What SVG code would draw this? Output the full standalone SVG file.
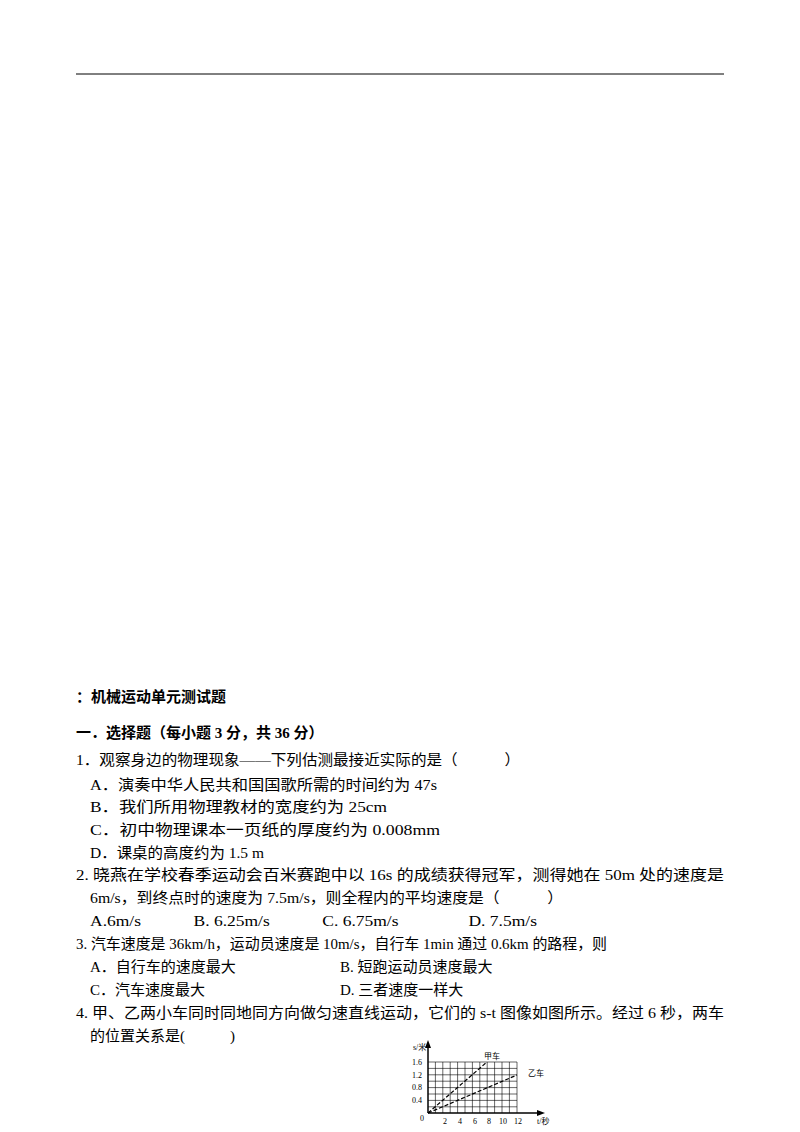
<svg xmlns="http://www.w3.org/2000/svg" width="800" height="1132" viewBox="0 0 800 1132">
<style>
text{font-family:"Liberation Serif","Noto Sans CJK SC",serif;font-size:15px;fill:#000}
.b{font-weight:bold}
.s{font-size:8px;font-family:"Liberation Serif","Noto Sans CJK SC",serif}
.g{stroke:#000;stroke-width:0.6}
</style>
<rect width="800" height="1132" fill="#fff"/>
<line x1="76" y1="74" x2="724" y2="74" stroke="#000" stroke-width="1"/>
<g id="text">
<text x="76" y="702" class="b">：机械运动单元测试题</text>
<text x="76" y="738" class="b">一．选择题（每小题 3 分，共 36 分）</text>
<text x="76" y="765" textLength="444" lengthAdjust="spacingAndGlyphs">1．观察身边的物理现象——下列估测最接近实际的是（　　　）</text>
<text x="90" y="790" textLength="347" lengthAdjust="spacingAndGlyphs">A．演奏中华人民共和国国歌所需的时间约为 47s</text>
<text x="90" y="812" textLength="297" lengthAdjust="spacingAndGlyphs">B．我们所用物理教材的宽度约为 25cm</text>
<text x="90" y="835" textLength="350" lengthAdjust="spacingAndGlyphs">C．初中物理课本一页纸的厚度约为 0.008mm</text>
<text x="90" y="858" textLength="174" lengthAdjust="spacingAndGlyphs">D．课桌的高度约为 1.5 m</text>
<text x="76" y="880" textLength="648" lengthAdjust="spacingAndGlyphs">2. 晓燕在学校春季运动会百米赛跑中以 16s 的成绩获得冠军，测得她在 50m 处的速度是</text>
<text x="90" y="903" textLength="473" lengthAdjust="spacingAndGlyphs">6m/s，到终点时的速度为 7.5m/s，则全程内的平均速度是（　　　）</text>
<text x="90" y="926" textLength="447" lengthAdjust="spacingAndGlyphs">A.6m/s　　　B. 6.25m/s　　　C. 6.75m/s　　　　D. 7.5m/s</text>
<text x="76" y="949" textLength="531" lengthAdjust="spacingAndGlyphs">3. 汽车速度是 36km/h，运动员速度是 10m/s，自行车 1min 通过 0.6km 的路程，则</text>
<text x="90" y="972">A．自行车的速度最大</text>
<text x="340" y="972">B. 短跑运动员速度最大</text>
<text x="90" y="995">C．汽车速度最大</text>
<text x="340" y="995">D. 三者速度一样大</text>
<text x="76" y="1018" textLength="648" lengthAdjust="spacingAndGlyphs">4. 甲、乙两小车同时同地同方向做匀速直线运动，它们的 s-t 图像如图所示。经过 6 秒，两车</text>
<text x="90" y="1041">的位置关系是(　　　)</text>
</g>
<g id="graph">
<g class="g">
<path d="M428 1062H517M428 1068.4H517M428 1074.8H517M428 1081.2H517M428 1087.6H517M428 1094H517M428 1100.4H517M428 1106.8H517" fill="none"/>
<path d="M435.4 1062V1113M442.8 1062V1113M450.2 1062V1113M457.6 1062V1113M465 1062V1113M472.4 1062V1113M479.8 1062V1113M487.2 1062V1113M494.6 1062V1113M502 1062V1113M509.4 1062V1113M517 1062V1113" fill="none"/>
</g>
<line x1="428" y1="1113" x2="428" y2="1044" stroke="#000" stroke-width="1.5"/>
<path d="M428 1040 L425 1048 L431 1048Z" fill="#000"/>
<line x1="428" y1="1113" x2="540" y2="1113" stroke="#000" stroke-width="1.5"/>
<path d="M545 1113 L537 1110 L537 1116Z" fill="#000"/>
<line x1="428" y1="1113" x2="487" y2="1062" stroke="#000" stroke-width="1.2" stroke-dasharray="4 2"/>
<line x1="428" y1="1113" x2="517" y2="1075" stroke="#000" stroke-width="1.2" stroke-dasharray="4 2"/>
<text class="s" x="413" y="1050">s/米</text>
<text class="s" x="412" y="1065">1.6</text>
<text class="s" x="412" y="1078">1.2</text>
<text class="s" x="412" y="1090">0.8</text>
<text class="s" x="412" y="1103">0.4</text>
<text class="s" x="420" y="1121">0</text>
<text class="s" x="443" y="1124">2</text>
<text class="s" x="458" y="1124">4</text>
<text class="s" x="473" y="1124">6</text>
<text class="s" x="487" y="1124">8</text>
<text class="s" x="499" y="1124">10</text>
<text class="s" x="514" y="1124">12</text>
<text class="s" x="537" y="1124">t/秒</text>
<text class="s" x="484" y="1059">甲车</text>
<text class="s" x="528" y="1076">乙车</text>
</g>
</svg>
